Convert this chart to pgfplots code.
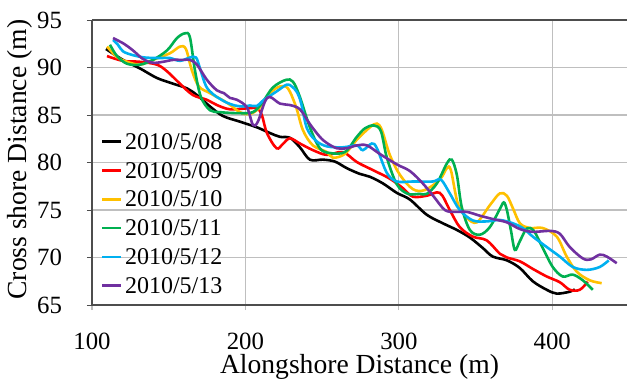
\documentclass[border=0pt]{standalone}
\usepackage{fontspec}
\setmainfont{Liberation Serif}
\usepackage{pgfplots}
\pgfplotsset{compat=1.18}
\definecolor{cRed}{HTML}{FF0000}
\definecolor{cYel}{HTML}{FFC000}
\definecolor{cGrn}{HTML}{00B050}
\definecolor{cBlu}{HTML}{00B0F0}
\definecolor{cPur}{HTML}{7030A0}
\definecolor{axgray}{HTML}{4D4D4D}
\definecolor{grid}{HTML}{BEBEBE}
\begin{document}
\begin{tikzpicture}[font=\fontsize{12}{14}\selectfont]
\useasboundingbox (-46pt,-40.5pt) rectangle (267.5pt,152.5pt);
\begin{axis}[
  at={(0,0)}, anchor=south west,
  width=267.5pt, height=142.5pt, scale only axis,
  xmin=100, xmax=448.7, ymin=65, ymax=95,
  xtick={100,200,300,400}, ytick={65,70,75,80,85,90,95},
  axis x line=box, axis y line=left,
  axis line style={axgray, line width=0.8pt, -},
  xtick pos=bottom, ytick pos=left,
  tick align=outside, major tick length=2.5pt,
  tick style={axgray, line width=0.5pt},
  x tick style={grid, line width=0.6pt},
  ymajorgrids, grid style={grid, line width=0.6pt},
  /pgf/number format/assume math mode=true,
  /pgf/number format/1000 sep={},
  ticklabel style={font=\fontsize{12.4}{14}\selectfont},
  yticklabel style={xshift=-9pt},
  xticklabel style={yshift=-8pt},
  xlabel={Alongshore Distance (m)},
  ylabel={Cross shore Distance (m)},
  xlabel style={at={(axis description cs:0.5,-0.218)}, anchor=center, font=\fontsize{13.8}{16}\selectfont},
  ylabel style={at={(axis description cs:-0.134,0.51)}, anchor=center, font=\fontsize{13.8}{16}\selectfont},
  legend style={at={(rel axis cs:0.005,0.63)}, anchor=north west, draw=none, fill=none,
    font=\fontsize{12}{14}\selectfont, row sep=2.5pt,
    nodes={inner sep=1.2pt, text height=8.5pt, text depth=1pt}},
  legend cell align=left,
  legend image code/.code={\draw[#1, line width=1.3pt] (0pt,0pt) -- (9.5pt,0pt);},
  every axis plot/.append style={line width=1.3pt, smooth, tension=0.55, no markers},
  clip=true,
]
\addplot[black] coordinates {
(109.1,91.95)(120.2,90.8)(131.3,89.9)(142.3,88.9)(152.8,88.3)(161.9,87.8)(168.4,87.1)
(176.9,85.9)(185.3,84.9)(196.4,84.3)(207.5,83.7)(216.0,83.1)(222.5,82.7)(229.0,82.6)
(235.5,81.6)(242.0,80.3)(250.5,80.3)(258.3,80.1)(266.1,79.4)(274.6,78.8)(281.1,78.5)
(289.6,77.8)(298.7,76.8)(307.2,76.1)(318.2,74.5)(328.7,73.6)(337.8,72.9)(346.3,72.1)
(354.7,71.0)(361.2,70.1)(370.4,69.7)(378.8,68.9)(387.3,67.5)(396.4,66.6)(402.9,66.2)
(411.4,66.4)(414.7,66.65)
};
\addlegendentry{2010/5/08}
\addplot[cRed] coordinates {
(109.8,91.2)(120.2,90.7)(131.3,90.6)(142.3,90.3)(148.9,89.6)(157.3,88.3)(165.8,87.1)
(174.9,86.6)(181.4,86.05)(189.9,85.6)(201.0,85.7)(207.5,85.7)(210.7,85.0)(214.0,83.1)
(220.3,81.5)(224.4,81.95)(229.0,82.55)(235.5,82.0)(244.0,81.3)(253.1,80.8)(263.5,81.1)
(272.6,80.05)(283.1,79.2)(294.1,78.3)(302.6,77.3)(309.1,76.4)(318.2,76.5)(326.7,76.8)
(333.2,75.0)(339.7,73.2)(348.2,72.2)(357.3,71.8)(365.8,70.4)(370.4,70.0)(378.8,69.6)
(387.3,68.8)(396.4,68.0)(404.9,67.4)(411.4,66.6)(417.9,66.6)(423.1,67.45)
};
\addlegendentry{2010/5/09}
\addplot[cYel] coordinates {
(109.8,92.2)(116.3,91.1)(122.8,90.6)(131.3,90.3)(139.7,90.8)(150.8,91.5)(157.3,92.2)
(161.2,91.95)(165.1,89.7)(169.7,88.0)(176.9,87.3)(187.9,86.3)(196.4,85.3)(202.9,85.1)
(209.4,85.8)(216.0,87.3)(222.5,88.0)(227.7,87.8)(232.9,85.9)(237.5,83.4)(244.0,81.8)
(253.1,81.1)(257.0,80.5)(264.8,80.9)(272.6,82.4)(281.1,83.7)(285.7,84.1)(289.0,83.4)
(294.1,80.8)(300.7,78.7)(309.1,77.2)(316.9,77.1)(326.7,78.2)(331.3,79.4)(333.9,79.2)
(338.4,75.7)(344.3,74.2)(350.8,73.7)(359.3,75.5)(365.8,76.75)(370.4,76.5)(374.3,75.2)
(378.9,73.6)(385.3,73.1)(393.8,73.1)(402.9,72.2)(409.4,70.1)(416.0,68.5)(424.4,67.6)
(432.2,67.3)
};
\addlegendentry{2010/5/10}
\addplot[cGrn] coordinates {
(111.7,92.4)(116.3,91.2)(122.8,90.4)(131.3,90.3)(139.7,90.8)(148.9,91.8)(155.4,93.1)
(160.6,93.6)(163.8,93.2)(167.1,89.7)(171.0,86.9)(176.9,85.5)(183.4,85.3)(194.5,85.2)
(204.9,85.3)(211.4,86.4)(217.9,87.9)(226.4,88.7)(231.0,88.5)(235.5,86.9)(242.0,83.7)
(248.5,81.5)(255.0,81.0)(264.8,81.1)(272.6,82.7)(277.9,83.6)(283.7,83.9)(288.3,83.3)
(292.2,80.5)(298.7,77.7)(305.9,76.7)(313.7,76.7)(318.2,76.7)(324.8,77.8)(331.3,79.9)
(334.5,80.3)(337.8,78.7)(341.0,75.3)(346.3,72.9)(352.8,72.4)(359.3,73.2)(365.8,75.1)
(368.4,75.8)(370.4,75.0)(373.0,72.9)(375.6,70.8)(378.8,71.7)(383.4,73.05)(388.0,72.8)
(393.8,71.0)(400.3,69.0)(406.8,68.0)(413.3,68.2)(419.9,67.6)(426.4,66.6)
};
\addlegendentry{2010/5/11}
\addplot[cBlu] coordinates {
(113.7,92.9)(116.9,92.4)(120.2,91.7)(126.7,91.3)(134.5,91.05)(144.3,91.0)(150.8,91.0)
(157.3,90.7)(163.8,91.05)(167.8,91.05)(170.4,89.9)(174.3,88.05)(178.8,87.2)(183.4,86.7)
(187.9,86.3)(193.2,86.0)(198.4,85.9)(202.9,86.0)(207.5,85.95)(212.1,86.6)(220.5,87.5)
(227.0,88.2)(230.3,88.0)(233.6,87.4)(236.2,86.3)(240.1,83.6)(245.9,82.3)(253.1,81.7)
(263.5,81.6)(272.6,81.8)(276.5,81.3)(282.4,82.0)(285.7,81.5)(292.2,78.9)(298.7,78.0)
(309.1,78.0)(322.1,78.0)(327.4,78.2)(333.2,76.75)(339.7,75.0)(348.2,73.9)(357.3,73.8)
(365.8,73.95)(374.3,73.6)(380.8,73.1)(387.3,72.2)(396.4,71.1)(404.9,70.1)(413.4,69.0)
(422.5,68.7)(430.9,69.0)(436.8,69.7)
};
\addlegendentry{2010/5/12}
\addplot[cPur] coordinates {
(113.7,93.1)(120.8,92.5)(126.7,91.8)(133.2,90.9)(139.7,90.5)(146.3,90.6)(152.8,90.8)
(159.3,90.8)(163.8,90.8)(168.4,90.3)(174.9,88.7)(181.4,87.6)(186.0,87.3)(189.9,86.8)
(194.5,86.6)(201.0,85.8)(204.9,83.95)(208.1,84.3)(212.7,86.4)(216.0,86.9)(222.5,86.2)
(229.0,86.05)(235.5,85.6)(242.0,84.05)(248.5,82.7)(253.1,82.05)(259.6,81.5)(266.1,81.5)
(272.6,81.8)(279.2,81.8)(287.6,80.9)(298.7,79.8)(307.2,79.1)(315.6,77.8)(322.8,76.4)
(330.0,75.0)(336.5,74.8)(344.3,74.8)(352.8,74.4)(361.2,74.05)(370.4,73.7)(378.8,73.0)
(387.3,72.7)(398.4,72.8)(404.9,72.5)(411.4,71.1)(419.9,69.9)(425.1,69.8)(430.9,70.3)
(435.5,70.1)(442.0,69.4)
};
\addlegendentry{2010/5/13}
\end{axis}
\end{tikzpicture}
\end{document}
